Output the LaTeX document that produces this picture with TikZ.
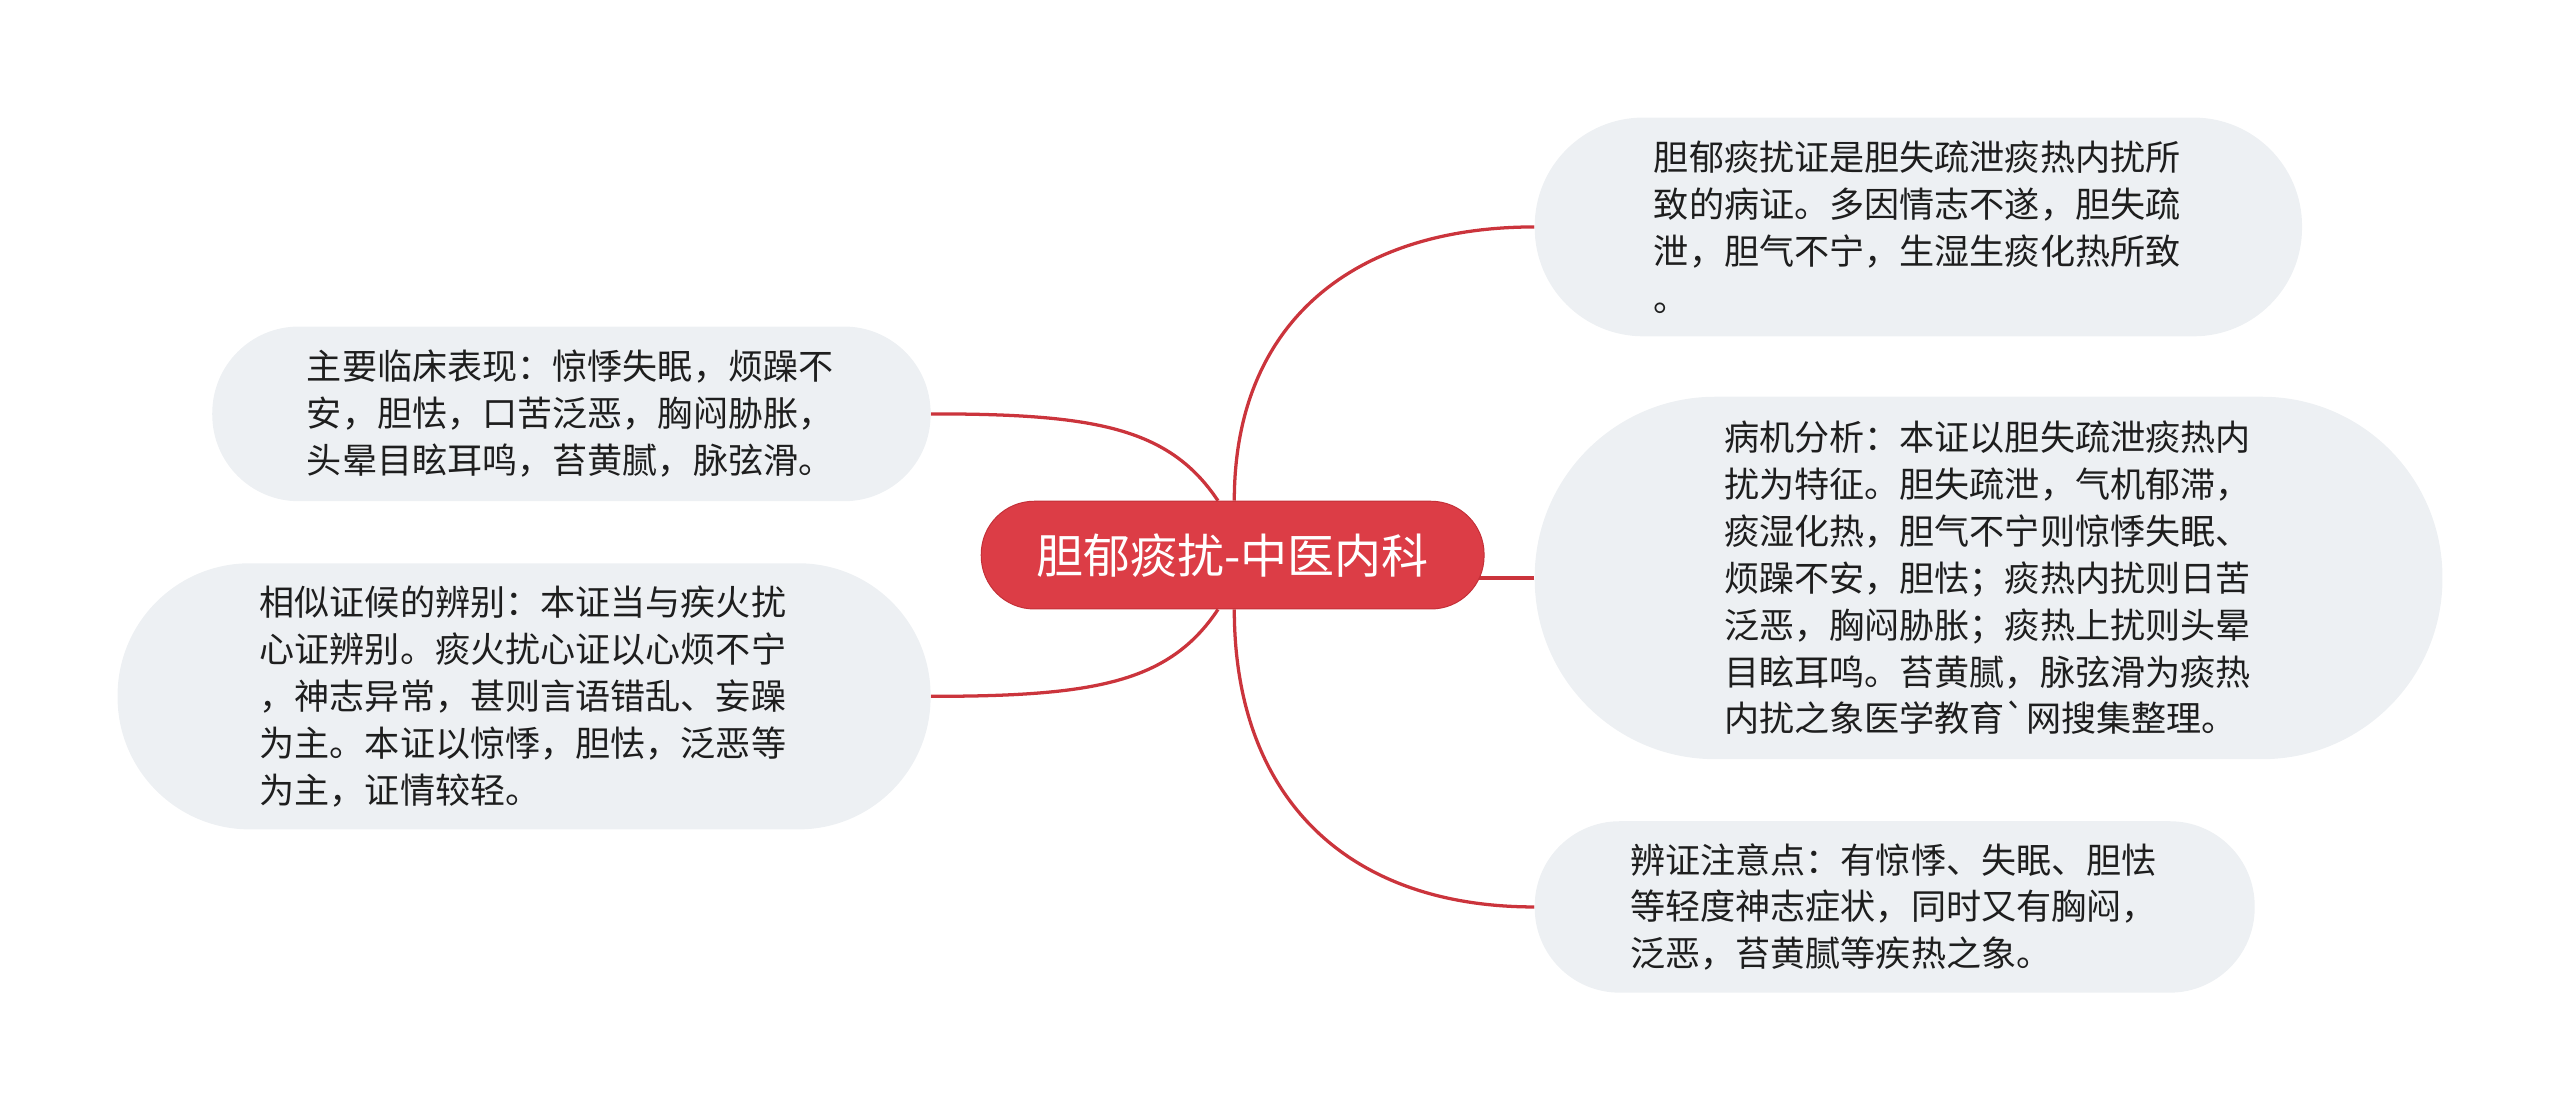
\documentclass[tikz,border=0pt]{standalone}
\usepackage{fontspec}
\usepackage{tikz}
\usetikzlibrary{backgrounds}
\newfontfamily\cjkfont{Noto Sans CJK SC}
\definecolor{rootred}{RGB}{220,61,70}
\definecolor{rootedge}{RGB}{196,48,56}
\definecolor{linkred}{RGB}{203,52,60}
\definecolor{leafgray}{RGB}{237,240,243}
\definecolor{leaftext}{RGB}{30,30,30}

\begin{document}
\begin{tikzpicture}[x=1pt,y=1pt,yscale=-1,
  rootnode/.style={fill=rootred, draw=rootedge, line width=0.6pt, rounded corners=32.5pt,
    minimum width=308pt, minimum height=66pt, inner sep=0pt, text=white,
    font=\cjkfont\fontsize{28.8}{34}\selectfont},
  leafnode/.style={fill=leafgray, rounded corners=#1, inner sep=0pt, text width=324pt,
    align=left, text=leaftext, font=\cjkfont\fontsize{21.5}{28.7}\selectfont},
  link/.style={draw=linkred, line width=2pt}]
\useasboundingbox (0,0) rectangle (1568,680);

%Shape: Root [id:root]
\node [rootnode] (root) at (755,340) {胆郁痰扰-中医内科};

%Shape: Rounded Rectangle [id:define]
\node [leafnode=66.5pt, minimum width=470pt, minimum height=134pt] (define) at (1175,139)
  {胆郁痰扰证是胆失疏泄痰热内扰所\\致的病证。多因情志不遂，胆失疏\\泄，胆气不宁，生湿生痰化热所致\\。};
%Shape: Rounded Rectangle [id:mechanism]
\node [leafnode=110.5pt, minimum width=556pt, minimum height=222pt] (mechanism) at (1218,354)
  {病机分析：本证以胆失疏泄痰热内\\扰为特征。胆失疏泄，气机郁滞，\\痰湿化热，胆气不宁则惊悸失眠、\\烦躁不安，胆怯；痰热内扰则日苦\\泛恶，胸闷胁胀；痰热上扰则头晕\\目眩耳鸣。苔黄腻，脉弦滑为痰热\\内扰之象医学教育`网搜集整理。};
%Shape: Rounded Rectangle [id:keypoint]
\node [leafnode=52pt, minimum width=441pt, minimum height=105pt] (keypoint) at (1160.5,555.5)
  {辨证注意点：有惊悸、失眠、胆怯\\等轻度神志症状，同时又有胸闷，\\泛恶，苔黄腻等疾热之象。};
%Shape: Rounded Rectangle [id:symptom]
\node [leafnode=53pt, minimum width=440pt, minimum height=107pt] (symptom) at (350,253.5)
  {主要临床表现：惊悸失眠，烦躁不\\安，胆怯，口苦泛恶，胸闷胁胀，\\头晕目眩耳鸣，苔黄腻，脉弦滑。};
%Shape: Rounded Rectangle [id:differ]
\node [leafnode=81pt, minimum width=498pt, minimum height=163pt] (differ) at (321,426.5)
  {相似证候的辨别：本证当与疾火扰\\心证辨别。痰火扰心证以心烦不宁\\，神志异常，甚则言语错乱、妄躁\\为主。本证以惊悸，胆怯，泛恶等\\为主，证情较轻。};

% Connectors
\begin{scope}[on background layer]
\draw [link] ([xshift=1pt]root.north) .. controls +(0,-110) and +(-110,0) .. (define.west);
\draw [link] (mechanism.west) -- ([xshift=-8pt]mechanism.west -| root.east);
\draw [link] ([xshift=1pt]root.south) .. controls +(0,115) and +(-115,0) .. (keypoint.west);
\draw [link] ([xshift=-9pt]root.north) .. controls +(-30,-45) and +(100,0) .. (symptom.east);
\draw [link] ([xshift=-9pt]root.south) .. controls +(-30,45) and +(100,0) .. (differ.east);
\end{scope}
\end{tikzpicture}
\end{document}
